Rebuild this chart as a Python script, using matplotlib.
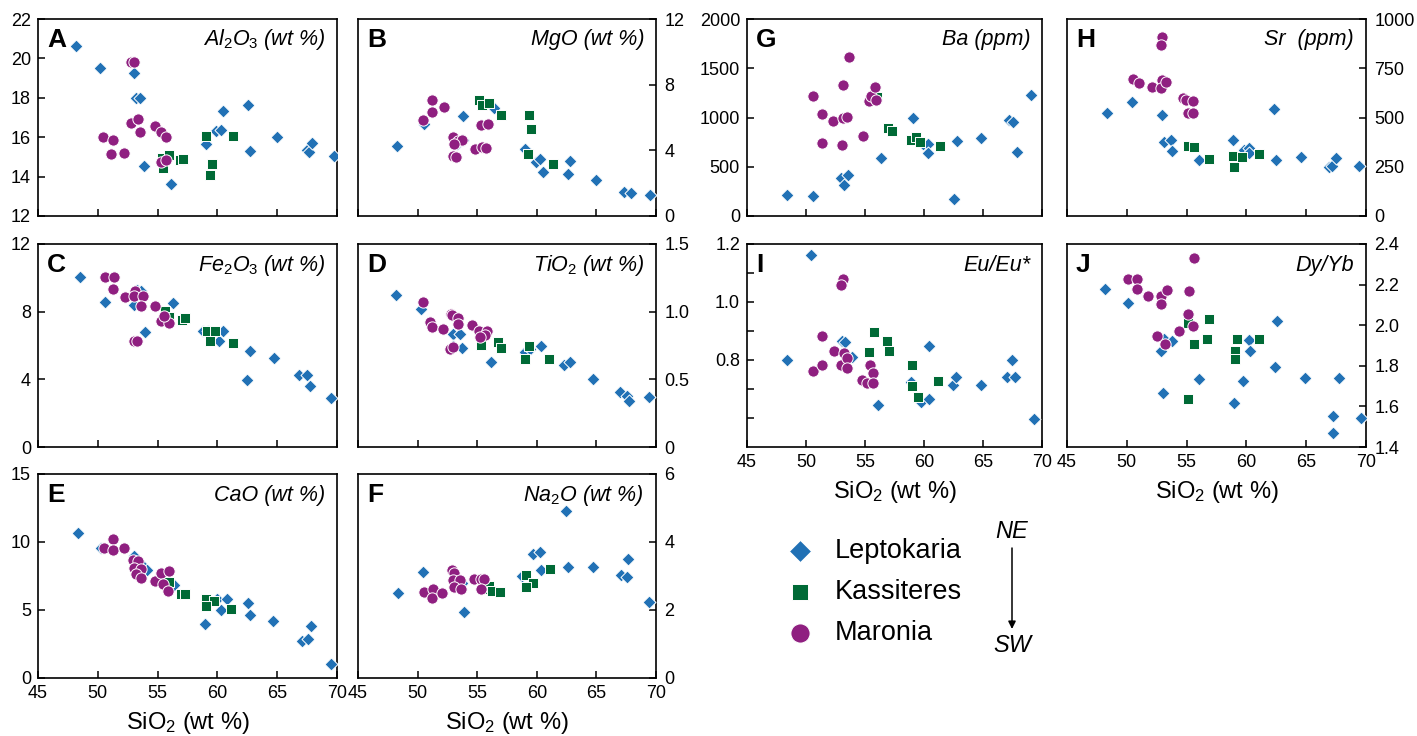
import matplotlib
matplotlib.use("Agg")
import matplotlib.pyplot as plt

plt.rcParams['font.family'] = ['Liberation Sans', 'DejaVu Sans']
plt.rcParams['mathtext.fontset'] = 'custom'
plt.rcParams['mathtext.rm'] = 'Liberation Sans'
plt.rcParams['mathtext.it'] = 'Liberation Sans:italic'
plt.rcParams['mathtext.bf'] = 'Liberation Sans:bold'

# ---------------------------------------------------------------- groups
groups = ['Leptokaria', 'Kassiteres', 'Maronia']
colors = ['#2171b5', '#006a36', '#8f1f80']
markers = ['D', 's', 'o']
sizes = [44, 50, 66]

# ---------------------------------------------------------------- data
# A  Al2O3 (wt %)
al_lep_si = [48.18, 50.22, 53.02, 53.2, 53.5, 53.9, 56.15, 59.08, 59.9, 60.3, 60.47, 62.57, 62.71, 65.0, 67.46, 67.68, 67.88, 69.78]
al_lep = [20.63, 19.50, 19.26, 18.0, 17.98, 14.55, 13.62, 15.67, 16.33, 16.36, 17.32, 17.62, 15.29, 16.0, 15.34, 15.26, 15.72, 15.04]
al_kas_si = [55.39, 55.45, 55.92, 56.84, 57.12, 59.02, 59.58, 59.36, 61.31]
al_kas = [14.96, 14.43, 15.12, 14.84, 14.89, 16.08, 14.64, 14.10, 16.05]
al_mar_si = [52.74, 52.99, 50.42, 51.26, 51.12, 52.15, 52.74, 53.35, 53.49, 54.75, 55.31, 55.67, 55.31, 55.73]
al_mar = [19.80, 19.80, 16.0, 15.88, 15.14, 15.21, 16.74, 16.94, 16.25, 16.55, 16.25, 16.03, 14.76, 14.84]

# B  MgO (wt %)
mg_lep_si = [48.31, 50.56, 53.3, 53.85, 53.85, 56.38, 59.04, 59.9, 60.3, 60.5, 62.6, 62.78, 64.94, 67.33, 67.89, 69.52]
mg_lep = [4.26, 5.58, 4.4, 4.6, 6.12, 6.57, 4.1, 3.3, 3.5, 2.67, 2.55, 3.37, 2.18, 1.49, 1.39, 1.27]
mg_kas_si = [55.17, 55.39, 55.96, 56.99, 59.38, 59.55, 59.24, 61.35]
mg_kas = [7.07, 6.77, 6.87, 6.18, 6.18, 5.29, 3.76, 3.17]
mg_mar_si = [51.18, 51.24, 52.25, 50.48, 53.0, 53.4, 53.7, 53.06, 53.0, 53.2, 54.83, 55.39, 55.76, 55.34, 55.9]
mg_mar = [7.07, 6.34, 6.63, 5.82, 4.83, 4.59, 4.63, 4.40, 3.64, 3.60, 4.10, 4.20, 4.14, 5.54, 5.62]

# C  Fe2O3 (wt %)
fe_lep_si = [48.48, 50.61, 53.05, 53.3, 53.6, 53.96, 56.32, 58.8, 59.2, 60.1, 60.47, 62.69, 62.47, 64.74, 66.84, 67.5, 67.78, 69.47]
fe_lep = [10.02, 8.60, 8.40, 9.30, 9.20, 6.77, 8.50, 6.83, 6.83, 6.24, 6.83, 5.65, 3.98, 5.26, 4.27, 4.27, 3.58, 2.89]
fe_kas_si = [55.6, 55.96, 57.06, 57.26, 59.09, 59.78, 59.42, 61.27]
fe_kas = [8.05, 7.66, 7.52, 7.62, 6.83, 6.87, 6.24, 6.14]
fe_mar_si = [50.64, 51.39, 51.25, 52.27, 53.10, 53.05, 53.74, 53.6, 54.79, 55.26, 55.96, 55.54, 53.05, 53.27]
fe_mar = [10.02, 10.02, 9.35, 8.86, 9.25, 8.90, 8.90, 8.35, 8.31, 7.42, 7.32, 7.72, 6.24, 6.24]

# D  TiO2 (wt %)
ti_lep_si = [48.22, 50.3, 53.0, 53.57, 53.0, 53.7, 56.16, 59.0, 59.4, 60.39, 62.28, 62.76, 64.7, 67.0, 67.6, 67.77, 69.44]
ti_lep = [1.126, 1.022, 0.837, 0.837, 0.75, 0.733, 0.626, 0.70, 0.725, 0.745, 0.606, 0.631, 0.502, 0.403, 0.374, 0.342, 0.366]
ti_kas_si = [55.29, 56.77, 56.99, 59.33, 59.0, 61.0]
ti_kas = [0.757, 0.775, 0.733, 0.745, 0.651, 0.651]
ti_mar_si = [50.42, 51.0, 51.2, 52.12, 52.81, 52.92, 53.43, 53.43, 52.73, 53.0, 54.6, 55.15, 55.8, 55.65, 55.24]
ti_mar = [1.072, 0.923, 0.886, 0.869, 0.985, 0.973, 0.953, 0.911, 0.725, 0.738, 0.903, 0.854, 0.854, 0.824, 0.81]

# E  CaO (wt %)
ca_lep_si = [48.33, 50.28, 53.06, 53.61, 54.08, 56.39, 58.97, 59.94, 60.83, 60.28, 62.56, 62.72, 64.64, 67.08, 67.56, 67.83, 69.53]
ca_lep = [10.67, 9.53, 8.99, 8.37, 7.92, 6.81, 3.99, 5.84, 5.84, 5.02, 5.52, 4.65, 4.16, 2.72, 2.85, 3.84, 1.06]
ca_kas_si = [55.97, 56.94, 57.28, 59.03, 59.72, 59.03, 61.11]
ca_kas = [7.05, 6.14, 6.14, 5.84, 5.64, 5.27, 5.10]
ca_mar_si = [50.5, 51.25, 51.25, 52.22, 52.92, 53.33, 53.0, 53.61, 53.19, 53.61, 54.78, 55.28, 55.97, 55.47, 55.83]
ca_mar = [9.55, 10.22, 9.43, 9.55, 8.66, 8.61, 8.07, 7.99, 7.67, 7.38, 7.13, 7.75, 7.87, 6.88, 6.39]

# F  Na2O (wt %)
na_lep_si = [48.39, 50.47, 53.89, 53.75, 58.75, 59.72, 60.28, 60.36, 62.42, 62.64, 64.72, 67.08, 67.58, 67.64, 69.44]
na_lep = [2.51, 3.12, 1.93, 2.8, 3.0, 3.64, 3.72, 3.17, 4.90, 3.27, 3.27, 3.02, 2.98, 3.49, 2.24]
na_kas_si = [55.7, 55.97, 56.25, 56.89, 59.11, 59.64, 59.11, 61.11]
na_kas = [2.61, 2.71, 2.56, 2.54, 3.02, 2.78, 2.68, 3.22]
na_mar_si = [50.56, 51.25, 51.19, 52.08, 52.86, 53.06, 53.0, 53.56, 53.06, 53.61, 54.72, 55.28, 55.56, 55.28]
na_mar = [2.54, 2.61, 2.34, 2.51, 3.17, 3.09, 2.88, 2.88, 2.68, 2.63, 2.91, 2.91, 2.91, 2.61]

# G  Ba (ppm)
ba_lep_si = [48.42, 50.58, 53.0, 53.19, 53.56, 56.33, 59.03, 59.94, 60.36, 60.36, 62.81, 62.5, 64.81, 67.17, 67.58, 67.86, 69.11]
ba_lep = [217, 200, 390, 317, 417, 590, 993, 733, 733, 643, 757, 177, 790, 977, 950, 650, 1227]
ba_kas_si = [56.0, 56.97, 57.25, 58.89, 59.33, 59.67, 61.33]
ba_kas = [1210, 890, 867, 767, 800, 750, 710]
ba_mar_si = [50.58, 51.33, 51.33, 52.25, 53.14, 53.14, 53.47, 53.08, 53.64, 54.86, 55.31, 55.5, 55.86, 55.97]
ba_mar = [1217, 1033, 743, 967, 1333, 990, 1007, 717, 1610, 817, 1167, 1217, 1307, 1177]

# H  Sr (ppm)
sr_lep_si = [48.33, 50.42, 52.94, 53.14, 53.69, 53.78, 56.0, 58.89, 59.81, 60.22, 60.22, 62.28, 62.5, 64.58, 66.89, 67.17, 67.53, 69.39]
sr_lep = [521, 578, 513, 376, 385, 330, 286, 388, 335, 343, 318, 545, 286, 300, 249, 256, 294, 252]
sr_kas_si = [55.14, 55.58, 56.89, 58.89, 58.97, 59.61, 61.06]
sr_kas = [355, 351, 289, 305, 249, 297, 315]
sr_mar_si = [52.94, 52.86, 50.5, 51.06, 52.08, 52.94, 52.86, 53.28, 54.67, 54.94, 55.5, 55.08, 55.56]
sr_mar = [909, 868, 695, 673, 657, 690, 648, 678, 599, 587, 586, 525, 525]

# I  Eu/Eu*
eu_lep_si = [48.43, 50.44, 53.07, 53.34, 53.9, 56.1, 58.87, 59.78, 60.44, 60.39, 62.46, 62.73, 64.8, 67.02, 67.43, 67.7, 69.36]
eu_lep = [0.80, 1.162, 0.867, 0.861, 0.809, 0.646, 0.723, 0.654, 0.665, 0.847, 0.715, 0.740, 0.715, 0.740, 0.80, 0.740, 0.597]
eu_kas_si = [55.77, 55.33, 56.85, 57.07, 59.0, 59.0, 59.5, 61.16]
eu_kas = [0.895, 0.826, 0.867, 0.830, 0.784, 0.709, 0.674, 0.729]
eu_mar_si = [53.12, 52.93, 51.33, 52.38, 50.58, 51.33, 53.2, 52.93, 53.48, 53.48, 54.72, 55.41, 55.69, 55.19, 55.69]
eu_mar = [1.079, 1.059, 0.884, 0.832, 0.763, 0.783, 0.823, 0.783, 0.807, 0.771, 0.731, 0.783, 0.754, 0.721, 0.721]

# J  Dy/Yb
dy_lep_si = [48.2, 50.06, 52.82, 53.1, 53.81, 53.05, 56.07, 58.95, 59.69, 60.23, 60.31, 62.43, 62.57, 64.89, 67.74, 67.23, 67.23, 69.55]
dy_lep = [2.178, 2.108, 1.872, 1.93, 1.922, 1.667, 1.737, 1.617, 1.725, 1.928, 1.872, 1.795, 2.022, 1.742, 1.742, 1.553, 1.467, 1.542]
dy_kas_si = [55.08, 56.84, 55.59, 56.69, 59.24, 59.04, 59.04, 61.07, 55.14]
dy_kas = [2.013, 2.033, 1.908, 1.93, 1.933, 1.872, 1.833, 1.93, 1.638]
dy_mar_si = [55.65, 50.06, 50.85, 50.85, 51.75, 52.82, 53.33, 52.82, 55.17, 55.14, 55.51, 54.38, 52.54, 53.16]
dy_mar = [2.33, 2.228, 2.228, 2.178, 2.142, 2.145, 2.175, 2.105, 2.17, 2.053, 1.997, 1.97, 1.945, 1.908]

sio2_ticks = [45, 50, 55, 60, 65, 70]

# ---------------------------------------------------------------- layout
W, H = 1417, 736
fig = plt.figure(figsize=(W / 100, H / 100), dpi=100)

cols = [(38, 337), (358, 656), (747, 1042), (1067, 1366)]
rows = [(19, 216), (244, 447), (474, 678)]


def rect(c, r):
    x0, x1 = cols[c]
    y0, y1 = rows[r]
    return [x0 / W, 1 - y1 / H, (x1 - x0) / W, (y1 - y0) / H]


panels = [
    # letter, title, col, row, ylim, yticks, yticklabels, right axis, x labels, series
    ('A', r'$Al_2O_3$ (wt %)', 0, 0, (12, 22), [12, 14, 16, 18, 20, 22], None, False, False,
     [(al_lep_si, al_lep), (al_kas_si, al_kas), (al_mar_si, al_mar)]),
    ('B', 'MgO (wt %)', 1, 0, (0, 12), [0, 4, 8, 12], None, True, False,
     [(mg_lep_si, mg_lep), (mg_kas_si, mg_kas), (mg_mar_si, mg_mar)]),
    ('C', r'$Fe_2O_3$ (wt %)', 0, 1, (0, 12), [0, 4, 8, 12], None, False, False,
     [(fe_lep_si, fe_lep), (fe_kas_si, fe_kas), (fe_mar_si, fe_mar)]),
    ('D', r'$TiO_2$ (wt %)', 1, 1, (0, 1.5), [0, 0.5, 1.0, 1.5], ['0', '0.5', '1.0', '1.5'], True, False,
     [(ti_lep_si, ti_lep), (ti_kas_si, ti_kas), (ti_mar_si, ti_mar)]),
    ('E', 'CaO (wt %)', 0, 2, (0, 15), [0, 5, 10, 15], None, False, True,
     [(ca_lep_si, ca_lep), (ca_kas_si, ca_kas), (ca_mar_si, ca_mar)]),
    ('F', r'$Na_2O$ (wt %)', 1, 2, (0, 6), [0, 2, 4, 6], None, True, True,
     [(na_lep_si, na_lep), (na_kas_si, na_kas), (na_mar_si, na_mar)]),
    ('G', 'Ba (ppm)', 2, 0, (0, 2000), [0, 500, 1000, 1500, 2000], None, False, False,
     [(ba_lep_si, ba_lep), (ba_kas_si, ba_kas), (ba_mar_si, ba_mar)]),
    ('H', 'Sr  (ppm)', 3, 0, (0, 1000), [0, 250, 500, 750, 1000], None, True, False,
     [(sr_lep_si, sr_lep), (sr_kas_si, sr_kas), (sr_mar_si, sr_mar)]),
    ('I', 'Eu/Eu*', 2, 1, (0.5, 1.2), [0.6, 0.7, 0.8, 0.9, 1.0, 1.1, 1.2],
     ['', '', '0.8', '', '1.0', '', '1.2'], False, True,
     [(eu_lep_si, eu_lep), (eu_kas_si, eu_kas), (eu_mar_si, eu_mar)]),
    ('J', 'Dy/Yb', 3, 1, (1.4, 2.4), [1.4, 1.6, 1.8, 2.0, 2.2, 2.4],
     ['1.4', '1.6', '1.8', '2.0', '2.2', '2.4'], True, True,
     [(dy_lep_si, dy_lep), (dy_kas_si, dy_kas), (dy_mar_si, dy_mar)]),
]

legend_handles = None
for letter, title, c, r, ylim, yticks, ylabels, right, xlab, series in panels:
    ax = fig.add_axes(rect(c, r))
    handles = []
    for k, (xs, ys) in enumerate(series):
        h = ax.scatter(xs, ys, marker=markers[k], s=sizes[k], c=colors[k],
                       edgecolors='white', linewidths=0.7, zorder=3 + k,
                       label=groups[k])
        handles.append(h)
    if legend_handles is None:
        legend_handles = handles

    ax.set_xlim(45, 70)
    ax.set_ylim(*ylim)
    ax.set_xticks(sio2_ticks)
    ax.set_yticks(yticks)
    if ylabels is not None:
        ax.set_yticklabels(ylabels)
    for sp in ax.spines.values():
        sp.set_linewidth(1.2)
    ax.tick_params(direction='in', length=5, width=1.1, labelsize=13, pad=5)
    if right:
        ax.yaxis.tick_right()
        ax.tick_params(axis='y', direction='in', pad=6)
    if xlab:
        ax.set_xlabel('SiO$_2$ (wt %)', fontsize=17, labelpad=6)
    else:
        ax.tick_params(axis='x', labelbottom=False)

    ax.text(0.03, 0.895, letter, transform=ax.transAxes, fontsize=19,
            fontweight='bold', ha='left', va='center')
    ax.text(0.96, 0.895, title, transform=ax.transAxes, fontsize=15.5,
            style='italic', ha='right', va='center')

# ---------------------------------------------------------------- legend
fig.legend(legend_handles, groups, loc='center left',
           bbox_to_anchor=(787 / W, 1 - 592 / H), frameon=False,
           fontsize=19.5, markerscale=1.7, scatterpoints=1,
           handlelength=0.95, handletextpad=0.8, labelspacing=0.55,
           borderpad=0, borderaxespad=0)

# NE -> SW direction marker
fig.text(1012 / W, 1 - 532 / H, 'NE', fontsize=17, style='italic',
         ha='center', va='center')
fig.text(1012 / W, 1 - 645 / H, 'SW', fontsize=17, style='italic',
         ha='center', va='center')
fig.add_artist(plt.Annotation('', xy=(1012 / W, 1 - 629 / H),
                              xytext=(1012 / W, 1 - 548 / H),
                              xycoords='figure fraction',
                              textcoords='figure fraction',
                              arrowprops=dict(arrowstyle='-|>', lw=1.1,
                                              color='black',
                                              mutation_scale=11,
                                              shrinkA=0, shrinkB=0)))

fig.savefig('out.png', dpi=100)
